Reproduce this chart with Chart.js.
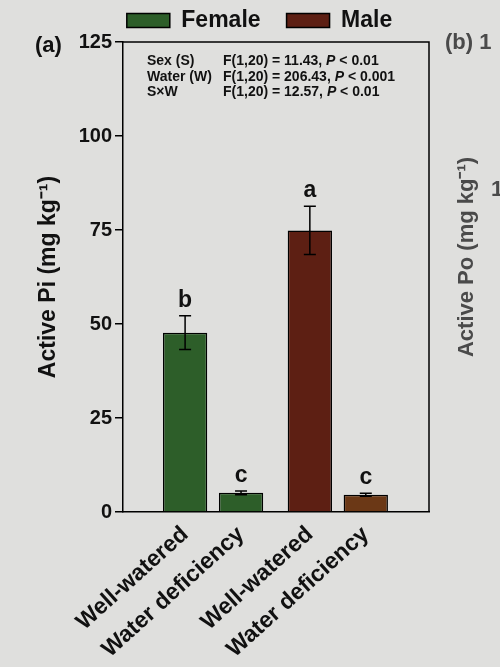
<!DOCTYPE html>
<html><head><meta charset="utf-8">
<script src="https://cdn.jsdelivr.net/npm/chart.js@4"></script>
<style>html,body{margin:0;padding:0;background:#dcdcda;}canvas{display:block}</style>
</head><body>
<canvas id="c" width="500" height="667"></canvas>
<script>
// ---- data ----
const categories = ['Well-watered', 'Water deficiency', 'Well-watered', 'Water deficiency'];
const groups = ['Female', 'Female', 'Male', 'Male'];
const seriesNames = ['Female', 'Male'];
const means = [47.7, 5.1, 74.9, 4.6];
const errors = [4.5, 0.5, 6.4, 0.4];
const letters = ['b', 'c', 'a', 'c'];
const yTicks = [0, 25, 50, 75, 100, 125];
const yTitle = 'Active Pi (mg kg⁻¹)';
const statNames = ['Sex (S)', 'Water (W)', 'S×W'];
const statF = ['F(1,20) = 11.43, ', 'F(1,20) = 206.43, ', 'F(1,20) = 12.57, '];
const statP = ['< 0.01', '< 0.001', '< 0.01'];
const panelLabel = '(a)';
const nextPanelLabel = '(b) 1';
const nextPanelTitle = 'Active Po (mg kg⁻¹)';
const nextPanelTick = '1';

// ---- styles / layout ----
const barColors = ['#2d5e29', '#2d5e29', '#5d1f13', '#6b3816'];
const GROUP_GAP = 0.23;
const BG = '#dfdfdd';
const INK = '#111111';
const FONT = '"Liberation Sans", Arial, sans-serif';
const xPos = i => i + GROUP_GAP * seriesNames.indexOf(groups[i]);

const datasets = seriesNames.map(s => {
  const idx = categories.map((c, i) => i).filter(i => groups[i] === s);
  return {
    label: s,
    data: idx.map(i => ({x: xPos(i), y: means[i]})),
    backgroundColor: idx.map(i => barColors[i]),
    borderColor: '#000',
    borderWidth: 1.5,
    grouped: false,
    barPercentage: 0.88,
    categoryPercentage: 0.9
  };
});

const bgPlugin = {
  id: 'bg',
  beforeDraw(chart) {
    const {ctx, width, height} = chart;
    ctx.save();
    ctx.fillStyle = BG;
    ctx.fillRect(0, 0, width, height);
    ctx.restore();
  }
};

const annPlugin = {
  id: 'ann',
  afterDatasetsDraw(chart) {
    const {ctx, chartArea: a} = chart;
    const xs = chart.scales.x, ys = chart.scales.y;
    ctx.save();
    // frame top + right
    ctx.strokeStyle = '#000';
    ctx.lineWidth = 1.5;
    ctx.beginPath();
    ctx.moveTo(a.left, a.top);
    ctx.lineTo(a.right, a.top);
    ctx.lineTo(a.right, a.bottom);
    ctx.stroke();
    // error bars and letters
    ctx.lineWidth = 1.5;
    categories.forEach((c, i) => {
      const x = xs.getPixelForValue(xPos(i));
      const yt = ys.getPixelForValue(means[i] + errors[i]);
      const yb = ys.getPixelForValue(means[i] - errors[i]);
      ctx.beginPath();
      ctx.moveTo(x, yt); ctx.lineTo(x, yb);
      ctx.moveTo(x - 6, yt); ctx.lineTo(x + 6, yt);
      ctx.moveTo(x - 6, yb); ctx.lineTo(x + 6, yb);
      ctx.stroke();
      ctx.fillStyle = INK;
      ctx.font = 'bold 23px ' + FONT;
      ctx.textAlign = 'center';
      ctx.textBaseline = 'alphabetic';
      ctx.fillText(letters[i], x, yt - 9);
    });
    // stats block
    ctx.textAlign = 'left';
    statNames.forEach((n, i) => {
      const y = a.top + 23 + i * 15.7;
      ctx.font = 'bold 14px ' + FONT;
      ctx.fillText(n, a.left + 24, y);
      let x = a.left + 100;
      ctx.fillText(statF[i], x, y);
      x += ctx.measureText(statF[i]).width;
      ctx.font = 'italic bold 14px ' + FONT;
      ctx.fillText('P', x, y);
      x += ctx.measureText('P ').width;
      ctx.font = 'bold 14px ' + FONT;
      ctx.fillText(statP[i], x, y);
    });
    ctx.restore();
  },
  afterDraw(chart) {
    const {ctx, chartArea: a} = chart;
    ctx.save();
    ctx.fillStyle = INK;
    ctx.font = 'bold 22px ' + FONT;
    ctx.textBaseline = 'middle';
    ctx.textAlign = 'left';
    ctx.fillText(panelLabel, 35, a.top + 4);
    ctx.fillStyle = '#4a4a4a';
    ctx.fillText(nextPanelLabel, 445, a.top + 1);
    ctx.fillText(nextPanelTick, 491, 190);
    ctx.translate(467, 257);
    ctx.rotate(-Math.PI / 2);
    ctx.textAlign = 'center';
    ctx.font = 'bold 22px ' + FONT;
    ctx.fillText(nextPanelTitle, 0, 0);
    ctx.restore();
  }
};

new Chart(document.getElementById('c'), {
  type: 'bar',
  data: {datasets},
  options: {
    responsive: false,
    animation: false,
    layout: {padding: {left: 19, right: 0, top: -17, bottom: 0}},
    plugins: {
      tooltip: {enabled: false},
      legend: {
        display: true,
        position: 'top',
        align: 'center',
        labels: {
          color: INK,
          font: {family: FONT, size: 23, weight: 'bold'},
          boxWidth: 43,
          boxHeight: 14,
          padding: 26
        }
      }
    },
    scales: {
      x: {
        type: 'linear',
        offset: false,
        min: -1.11,
        max: 4.36,
        afterFit(s) { s.height = 155; },
        afterBuildTicks(s) { s.ticks = categories.map((c, i) => ({value: xPos(i)})); },
        grid: {display: true, drawOnChartArea: false, drawTicks: false},
        border: {display: true, color: '#000', width: 1.5},
        ticks: {
          autoSkip: false,
          minRotation: 42,
          maxRotation: 42,
          padding: 9,
          color: INK,
          font: {family: FONT, size: 23, weight: 'bold'},
          callback: (v, i) => categories[i]
        }
      },
      y: {
        type: 'linear',
        position: 'left',
        min: 0,
        max: 125,
        afterFit(s) { s.width = 104; },
        afterBuildTicks(s) { s.ticks = yTicks.map(v => ({value: v})); },
        grid: {display: true, drawOnChartArea: false, drawTicks: true, tickLength: 8, color: '#000', lineWidth: 1.5},
        border: {display: true, color: '#000', width: 1.5},
        ticks: {
          padding: 3,
          color: INK,
          font: {family: FONT, size: 20, weight: 'bold'}
        },
        title: {
          display: true,
          text: yTitle,
          color: INK,
          font: {family: FONT, size: 23, weight: 'bold'},
          padding: {top: 16, bottom: 0}
        }
      },
      y2: {
        type: 'linear',
        position: 'right',
        display: true,
        afterFit(s) { s.width = 71; },
        grid: {display: false},
        border: {display: false},
        ticks: {display: false}
      }
    }
  },
  plugins: [bgPlugin, annPlugin]
});
</script>
</body></html>
